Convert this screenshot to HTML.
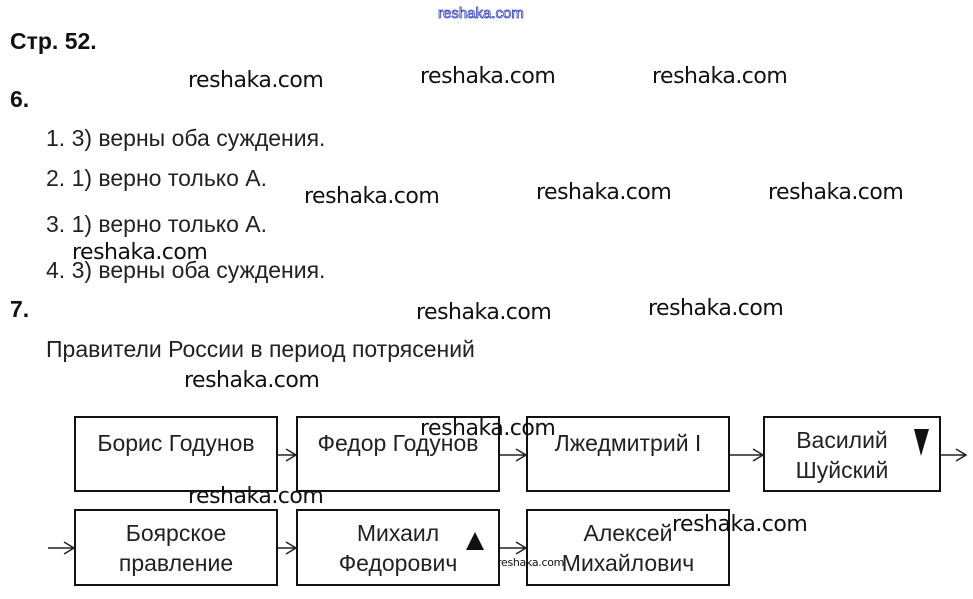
<!DOCTYPE html>
<html><head><meta charset="utf-8"><style>
body{margin:0;width:973px;height:599px;background:#fff;position:relative;overflow:hidden;font-family:"Liberation Sans","Noto Sans CJK SC",sans-serif;color:#222}
.t{position:absolute;font-size:23px;line-height:23px;white-space:nowrap}
.b{font-weight:bold;color:#111}
.w{position:absolute;font-size:22px;line-height:22px;color:#111;white-space:nowrap;font-family:"DejaVu Sans",sans-serif;letter-spacing:-0.5px}
.box{position:absolute;border:2px solid #111;box-sizing:border-box;background:#fff;font-size:23px;line-height:30px;text-align:center;color:#222}
svg{position:absolute;left:0;top:0}
</style></head><body>
<div class="t" style="left:438px;top:2px;font-size:15px;color:#fff;-webkit-text-stroke:0.8px #3340c0;">reshaka.com</div>
<div class="t b" style="left:10px;top:30px">Стр. 52.</div>
<div class="t b" style="left:10px;top:88px">6.</div>
<div class="t" style="left:46px;top:127px">1. 3) верны оба суждения.</div>
<div class="t" style="left:46px;top:167px">2. 1) верно только А.</div>
<div class="t" style="left:46px;top:213px">3. 1) верно только А.</div>
<div class="t" style="left:46px;top:259px">4. 3) верны оба суждения.</div>
<div class="t b" style="left:10px;top:298px">7.</div>
<div class="t" style="left:46px;top:338px">Правители России в период потрясений</div>

<div class="box" style="left:74px;top:416px;width:204px;height:76px;padding-top:10px">Борис Годунов</div>
<div class="box" style="left:296px;top:416px;width:204px;height:76px;padding-top:10px">Федор Годунов</div>
<div class="box" style="left:526px;top:416px;width:204px;height:76px;padding-top:10px">Лжедмитрий I</div>
<div class="box" style="left:763px;top:416px;width:178px;height:76px;padding-top:7px;padding-right:20px">Василий<br>Шуйский</div>
<div class="box" style="left:74px;top:509px;width:204px;height:77px;padding-top:7px">Боярское<br>правление</div>
<div class="box" style="left:296px;top:509px;width:204px;height:77px;padding-top:7px">Михаил<br>Федорович</div>
<div class="box" style="left:526px;top:509px;width:204px;height:77px;padding-top:7px">Алексей<br>Михайлович</div>

<svg width="973" height="599">
<g stroke="#222" stroke-width="1.5" fill="none">
<path d="M278 455H296M286 449L296 455L286 461"/>
<path d="M500 455H526M516 449L526 455L516 461"/>
<path d="M730 455H763M753 449L763 455L753 461"/>
<path d="M941 455H966M956 449L966 455L956 461"/>
<path d="M48 548H74M64 542L74 548L64 554"/>
<path d="M278 548H296M286 542L296 548L286 554"/>
<path d="M500 548H526M516 542L526 548L516 554"/>
</g>
<polygon points="914,429 929,429 921,456" fill="#111"/>
<polygon points="466,550 484,550 475,532" fill="#111"/>
</svg>

<div class="w" style="left:188px;top:70px">reshaka.com</div>
<div class="w" style="left:420px;top:66px">reshaka.com</div>
<div class="w" style="left:652px;top:66px">reshaka.com</div>
<div class="w" style="left:304px;top:186px">reshaka.com</div>
<div class="w" style="left:536px;top:182px">reshaka.com</div>
<div class="w" style="left:768px;top:182px">reshaka.com</div>
<div class="w" style="left:72px;top:242px">reshaka.com</div>
<div class="w" style="left:416px;top:302px">reshaka.com</div>
<div class="w" style="left:648px;top:298px">reshaka.com</div>
<div class="w" style="left:184px;top:370px">reshaka.com</div>
<div class="w" style="left:420px;top:418px">reshaka.com</div>
<div class="w" style="left:188px;top:486px">reshaka.com</div>
<div class="w" style="left:672px;top:514px">reshaka.com</div>
<div class="w" style="left:497px;top:557px;font-size:11px;line-height:11px;letter-spacing:-0.3px">reshaka.com</div>
</body></html>
